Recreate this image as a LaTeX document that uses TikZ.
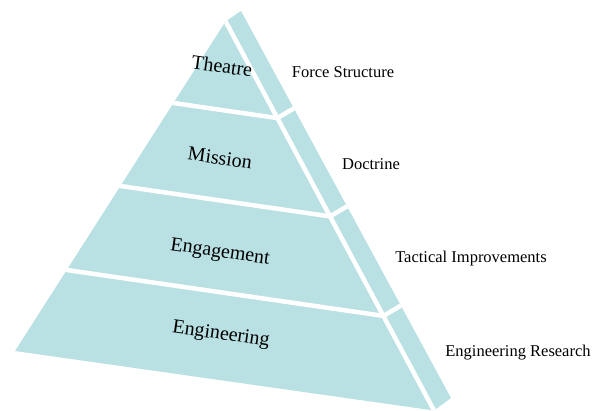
\documentclass[tikz,border=0pt]{standalone}
\usepackage{fontspec}
\setmainfont{Liberation Serif}
\usetikzlibrary{calc}
\definecolor{pyr}{RGB}{185,224,226}
\begin{document}
\begin{tikzpicture}[x=1pt,y=-1pt,
  gap/.style={white,line width=4.5pt},
  frontlabel/.style={font=\fontsize{20}{24}\selectfont,rotate=-8.2,inner sep=0pt},
  sidelabel/.style={font=\fontsize{16.5}{20}\selectfont,inner sep=0pt}]
\useasboundingbox (0,0) rectangle (601,410);
\coordinate (BL) at (15,351);
\coordinate (A) at (225.6,21.4);
\coordinate (TR) at (241,11);
\coordinate (RB) at (451,398);
\coordinate (BR) at (434,410.5);
\coordinate (L1) at (173.5,103);
\coordinate (L2) at (120.5,186);
\coordinate (L3) at (66.8,270);
\coordinate (J1) at (277.4,118.1);
\coordinate (J2) at (330.1,216.4);
\coordinate (J3) at (383.5,315.9);
\fill[pyr] (BL) -- (A) -- (TR) -- (RB) -- (BR) -- cycle;
\begin{scope}
  \clip (BL) -- (A) -- (TR) -- (RB) -- (BR) -- cycle;
  \draw[gap] ($(A)!-0.1!(BR)$) -- ($(BR)!-0.1!(A)$);
  \draw[gap] ($(L1)!-0.2!(J1)$) -- (J1) -- ++(32,-19);
  \draw[gap] ($(L2)!-0.2!(J2)$) -- (J2) -- ++(32,-19);
  \draw[gap] ($(L3)!-0.2!(J3)$) -- (J3) -- ++(32,-19);
\end{scope}
\node[frontlabel] (theatre) at (222,66) {Theatre};
\node[frontlabel] (mission) at (220,158) {Mission};
\node[frontlabel] (engagement) at (220,253) {Engagement};
\node[frontlabel] (engineering) at (221,335) {Engineering};
\node[sidelabel] (force) at (343,72) {Force Structure};
\node[sidelabel] (doctrine) at (371,164) {Doctrine};
\node[sidelabel] (tactical) at (471,259) {Tactical Improvements};
\node[sidelabel] (research) at (518,353) {Engineering Research};
\end{tikzpicture}
\end{document}
